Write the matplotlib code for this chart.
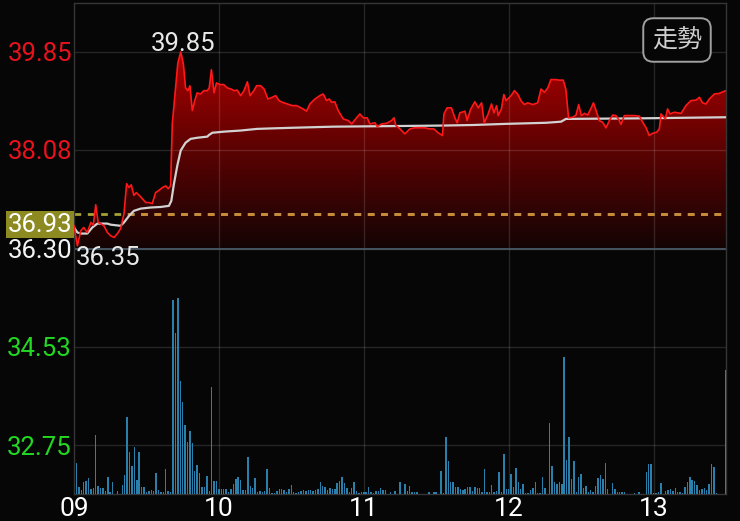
import numpy as np
import matplotlib.pyplot as plt
from matplotlib.colors import LinearSegmentedColormap
from matplotlib.transforms import blended_transform_factory

# intraday trade, minutes after 09:00
price_min = [0, 1.4, 2.8, 4, 5.5, 7, 8, 9, 10, 11, 12.4, 13.8, 15.2, 16.6, 18, 19.3,
             20.7, 21.8, 22.8, 23.7, 24.8, 25.8, 27, 28.3, 29.7, 31, 32.4, 33.8, 35.2,
             36.6, 38, 39, 40, 40.7, 41.4, 42.1, 43, 44.2, 45.3, 46.2, 47.2, 48, 49, 50,
             51, 52.4, 53.8, 55.2, 56, 56.9, 58, 59, 60.5, 62, 63.5, 65, 66.3, 67.6, 69,
             70.4, 71.8, 72.9, 74.5, 75.6, 77.3, 78.7, 80.3, 82.1, 83.5, 84.9, 86.3, 88.3,
             90.4, 92.2, 94.9, 96.3, 97.7, 99.8, 101.8, 103.2, 104.6, 105.7, 106.7, 108,
             109.4, 111.5, 113.6, 115, 117, 118.4, 119.8, 121.4, 122.5, 124.6, 125.6, 127.4,
             129.4, 131.5, 132.5, 133.3, 135, 137, 139.1, 141.2, 143.2, 145.3, 147.1, 149,
             150.8, 152.6, 153.2, 154.5, 156.3, 157.7, 158.7, 159.8, 161.9, 162.8, 164.2,
             166, 167.4, 168.8, 169.9, 171.5, 172.9, 173.9, 175, 175.7, 177, 178, 178.9,
             181, 182.4, 183.7, 185.1, 186.5, 187.9, 190, 192, 193.4, 194.8, 196.2, 197.5,
             199.6, 201, 202.6, 203.7, 204.8, 206.5, 207.9, 209, 210.1, 211.4, 212.7, 214.1,
             215.1, 216.2, 217.5, 218.9, 220.3, 221.7, 223.1, 224.4, 225.6, 226.5, 227.9,
             230, 232, 234.1, 235.5, 236.9, 238.2, 239.6, 241.3, 242.4, 243.1, 244.9, 245.8,
             246.8, 248.6, 251.4, 253.4, 255.5, 257.6, 259, 260.3, 261.7, 263.1, 265.2,
             267.2, 269.3, 270]
price = [36.71, 36.35, 36.62, 36.68, 36.59, 36.77, 36.72, 37.09, 36.77, 36.75, 36.71,
         36.59, 36.53, 36.50, 36.57, 36.66, 36.93, 37.47, 37.40, 37.45, 37.26, 37.31, 37.26,
         37.20, 37.13, 37.13, 37.11, 37.31, 37.35, 37.40, 37.43, 37.38, 37.43, 38.55, 38.88,
         39.20, 39.65, 39.85, 39.63, 39.20, 39.15, 39.24, 38.79, 38.97, 39.11, 39.09, 39.15,
         39.15, 39.20, 39.53, 39.11, 39.29, 39.26, 39.26, 39.20, 39.18, 39.15, 39.16, 39.06,
         39.15, 39.31, 39.06, 39.15, 39.24, 39.24, 39.18, 39.00, 39.03, 39.06, 38.97, 38.94,
         38.91, 38.88, 38.88, 38.82, 38.78, 38.91, 39.00, 39.06, 39.09, 38.97, 39.00, 38.94,
         38.95, 38.79, 38.64, 38.61, 38.55, 38.66, 38.73, 38.66, 38.66, 38.55, 38.57, 38.50,
         38.55, 38.56, 38.61, 38.66, 38.52, 38.46, 38.37, 38.46, 38.48, 38.48, 38.48, 38.46,
         38.46, 38.39, 38.34, 38.73, 38.84, 38.84, 38.66, 38.57, 38.75, 38.78, 38.61, 38.81,
         38.95, 38.84, 38.93, 38.57, 38.73, 38.91, 38.75, 38.88, 38.70, 38.82, 39.08, 38.97,
         39.06, 39.15, 39.09, 38.97, 38.90, 38.93, 38.90, 38.93, 39.18, 39.12, 39.20, 39.35,
         39.35, 39.34, 39.34, 39.17, 38.66, 38.67, 38.71, 38.90, 38.70, 38.74, 38.71, 38.83,
         38.93, 38.79, 38.61, 38.58, 38.48, 38.61, 38.71, 38.70, 38.63, 38.54, 38.70, 38.70,
         38.70, 38.69, 38.58, 38.48, 38.34, 38.38, 38.40, 38.46, 38.73, 38.64, 38.82, 38.73,
         38.76, 38.74, 38.88, 38.97, 38.98, 39.03, 38.93, 38.91, 39.00, 39.09, 39.10, 39.14,
         39.15]

avg_min = [0, 1.4, 2.8, 5.5, 7.6, 9.7, 13.8, 15.2, 19.3, 20.7, 22.8, 24.8, 27.6, 31.7,
           35.9, 39.3, 40.3, 41.4, 42.8, 44.2, 46.2, 48.3, 51.1, 55.2, 55.9, 57.3, 62.1,
           69, 75.9, 82.8, 90.4, 107.3, 130.8, 152.9, 165.3, 178.5, 195.5, 201.7, 203.7,
           234, 270]
avg = [36.68, 36.59, 36.57, 36.57, 36.68, 36.75, 36.75, 36.73, 36.71, 36.77, 36.89,
       36.98, 37.02, 37.04, 37.05, 37.07, 37.16, 37.47, 37.80, 38.07, 38.21, 38.28, 38.30,
       38.32, 38.35, 38.39, 38.41, 38.43, 38.46, 38.47, 38.48, 38.50, 38.51, 38.52, 38.53,
       38.55, 38.57, 38.59, 38.64, 38.65, 38.67]

# one bar per minute, 09:00 .. 13:30
volume = [0,
          31, 7, 4, 12, 13, 16, 5, 6, 59, 8, 6, 6, 3, 17, 2, 12, 0, 3, 0, 9,
          19, 77, 42, 28, 47, 14, 42, 7, 7, 2, 3, 4, 3, 21, 4, 2, 2, 25, 3, 2,
          194, 161, 196, 113, 92, 69, 52, 63, 51, 23, 29, 21, 7, 7, 18, 3, 107, 13, 13, 5,
          5, 5, 5, 2, 5, 10, 15, 17, 14, 4, 4, 37, 8, 6, 16, 2, 3, 2, 3, 25,
          6, 1, 1, 3, 5, 5, 4, 2, 5, 9,
          2, 1, 2, 3, 4, 3, 4, 4, 3, 4, 5, 12, 8, 7, 4, 6, 5, 5, 11, 13,
          17, 11, 6, 2, 6, 12, 3, 1, 2, 2, 2, 7, 2, 1, 3, 3, 6, 4, 4, 0,
          2, 0, 3, 0, 12, 0, 10, 3, 8, 2, 2, 2, 0, 0, 0, 0, 2, 0, 2, 2,
          0, 23, 1, 57, 33, 12, 12, 7, 7, 5, 4, 5, 7, 7, 3, 7, 6, 6, 2, 25,
          2, 2, 9, 2, 3, 22, 2, 40, 5, 5,
          20, 7, 26, 12, 5, 10, 1, 1, 4, 6, 12, 1, 1, 17, 6, 0, 71, 28, 12, 10,
          12, 10, 137, 34, 57, 15, 33, 2, 17, 20, 6, 8, 2, 4, 2, 8, 16, 19, 15, 31,
          5, 0, 11, 5, 2, 2, 2, 2, 0, 0, 0, 1, 0, 2, 0, 0, 22, 30, 30, 1,
          1, 2, 11, 0, 3, 4, 5, 3, 6, 2, 2, 1, 7, 12, 17, 14, 13, 9, 4, 5,
          6, 4, 10, 30, 27, 1, 0, 0, 0, 124]

ref_price = 36.93
base_price = 36.30
y_ticks = [39.85, 38.08, 36.30, 34.53, 32.75]
y_tick_colors = ['#e8121c', '#e8121c', '#f2f2f2', '#22d822', '#22d822']
x_ticks = [0, 60, 120, 180, 240]
x_labels = ['09', '10', '11', '12', '13']

BG = '#060606'
plt.rcParams['font.family'] = ['Roboto', 'DejaVu Sans']

fig = plt.figure(figsize=(7.4, 5.21), dpi=100, facecolor=BG)
ax = fig.add_axes([74 / 740, 27 / 521, 652 / 740, 491 / 521], facecolor=BG)

# red area under the price line, fading towards the base line
fill = ax.fill_between(price_min, price, base_price, color='none', lw=0)
clip = fill.get_paths()[0]
cmap = LinearSegmentedColormap.from_list('fade', ['#140404', '#5c0202', '#ad0000'])
grad = ax.imshow(np.linspace(0, 1, 256).reshape(-1, 1), cmap=cmap, origin='lower',
                 aspect='auto', extent=[0, 270, base_price, max(price)], zorder=1)
grad.set_clip_path(clip, transform=ax.transData)

for t in y_ticks:
    ax.axhline(t, color='white', alpha=0.13, lw=1, zorder=1.5)
for t in x_ticks[1:]:
    ax.axvline(t, color='white', alpha=0.13, lw=1, zorder=1.5)
ax.axhline(base_price, color='#4a5866', lw=1.3, zorder=1.6)

ax.axhline(ref_price, color='#a6a235', lw=2, dashes=(2.4, 2.4), zorder=2)
over = ax.axhline(ref_price, color='#c98a3c', lw=2, dashes=(2.4, 2.4), zorder=2.1)
over.set_clip_path(clip, transform=ax.transData)

ax.plot(avg_min, avg, color='#d2d2d2', lw=1.6, zorder=3)
ax.plot(price_min, price, color='#ff1818', lw=1.2, zorder=4)

hi = int(np.argmax(price))
lo = int(np.argmin(price))
ax.annotate(f'{price[hi]:.2f}', (price_min[hi], price[hi]), xytext=(2, -3),
            textcoords='offset points', ha='center', va='bottom',
            color='#e8e8e8', fontsize=18.5)
ax.annotate(f'{price[lo]:.2f}', (price_min[lo], price[lo]), xytext=(-1, 0),
            textcoords='offset points', ha='left', va='top',
            color='#e8e8e8', fontsize=18.5)

ax.set_xlim(0, 270)
ax.set_ylim(31.867, 40.733)
ax.set_xticks(x_ticks)
ax.set_xticklabels(x_labels, color='white', fontsize=19, va='baseline')
ax.set_yticks(y_ticks)
ax.set_yticklabels([f'{t:.2f}' for t in y_ticks], fontsize=18.5)
for lab, c in zip(ax.get_yticklabels(), y_tick_colors):
    lab.set_color(c)
ax.tick_params(length=0)
ax.tick_params(axis='y', pad=1.5)
ax.tick_params(axis='x', pad=15.5)
for s in ax.spines.values():
    s.set_color('#353535')
    s.set_linewidth(1)

trans = blended_transform_factory(ax.transAxes, ax.transData)
ax.annotate(f'{ref_price:.2f}', (0, ref_price), xycoords=trans, xytext=(-1, -8),
            textcoords='offset points', ha='right', va='center', color='white',
            fontsize=18.5, annotation_clip=False,
            bbox=dict(boxstyle='square,pad=0.06', fc='#8c8a20', ec='none'))

# volume bars share the bottom of the chart
axv = ax.twinx()
axv.bar(np.arange(len(volume)), volume, width=0.6, color='#2a80aa', lw=0)
axv.set_ylim(0, 491)
axv.set_xlim(0, 270)
axv.axis('off')

fig.text(677 / 740, 1 - 40 / 521, '走勢', ha='center', va='center', color='#cfcfcf',
         fontsize=18, family=['Noto Sans CJK TC', 'DejaVu Sans'],
         bbox=dict(boxstyle='round,pad=0.35,rounding_size=0.4', fc=BG, ec='#a0a0a0', lw=1.4))

fig.savefig('out.png', dpi=100, facecolor=BG)
